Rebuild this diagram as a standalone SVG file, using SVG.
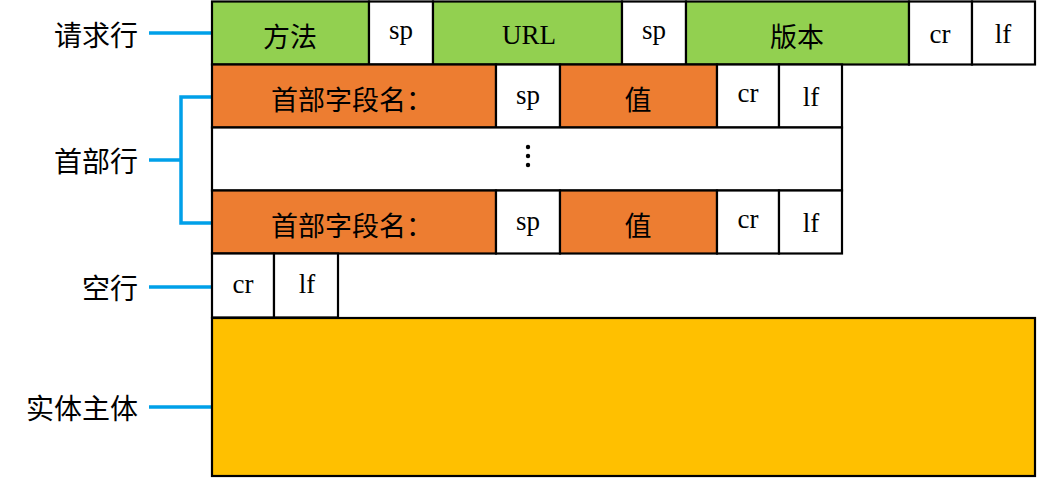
<svg xmlns="http://www.w3.org/2000/svg" width="1037" height="478" viewBox="0 0 1037 478">
<style>
.c{stroke:#000;stroke-width:2.2}
.g{fill:#92D050}
.o{fill:#ED7D31}
.w{fill:#fff}
.y{fill:#FFC000}
.zh{font-family:"Noto Sans CJK SC","Microsoft YaHei",sans-serif;font-size:27px;fill:#000;text-anchor:middle;dominant-baseline:central}
.en{font-family:"Liberation Serif","Times New Roman",serif;font-size:27px;fill:#000;text-anchor:middle}
.lb{font-family:"Noto Sans CJK SC","Microsoft YaHei",sans-serif;font-size:28px;fill:#000;text-anchor:end;dominant-baseline:central}
.con{stroke:#00A0E9;stroke-width:3.5;fill:none}
</style>
<rect width="1037" height="478" fill="#fff"/>
<g id="labels">
<text class="lb" x="138" y="34">请求行</text>
<text class="lb" x="138" y="160">首部行</text>
<text class="lb" x="138" y="287">空行</text>
<text class="lb" x="138" y="407">实体主体</text>
</g>
<g id="connectors">
<line class="con" x1="149" y1="33" x2="212" y2="33"/>
<path class="con" d="M149 160H181M212 97H181V223H212"/>
<line class="con" x1="149" y1="287" x2="212" y2="287"/>
<line class="con" x1="149" y1="407" x2="212" y2="407"/>
</g>
<g id="request-line">
<rect class="c g" x="212" y="1.5" width="157" height="63"/>
<rect class="c w" x="369" y="1.5" width="64" height="63"/>
<rect class="c g" x="433" y="1.5" width="189" height="63"/>
<rect class="c w" x="622" y="1.5" width="64" height="63"/>
<rect class="c g" x="686" y="1.5" width="223" height="63"/>
<rect class="c w" x="909" y="1.5" width="63" height="63"/>
<rect class="c w" x="972" y="1.5" width="63" height="63"/>
<text class="zh" x="290" y="35">方法</text>
<text class="en" x="401" y="39">sp</text>
<text class="en" x="529" y="44">URL</text>
<text class="en" x="654" y="39">sp</text>
<text class="zh" x="797" y="35">版本</text>
<text class="en" x="940" y="43">cr</text>
<text class="en" x="1003" y="43">lf</text>
</g>
<g id="header-1">
<rect class="c o" x="212" y="64.5" width="284" height="63"/>
<rect class="c w" x="496" y="64.5" width="64" height="63"/>
<rect class="c o" x="560" y="64.5" width="157" height="63"/>
<rect class="c w" x="717" y="64.5" width="62" height="63"/>
<rect class="c w" x="779" y="64.5" width="63" height="63"/>
<text class="zh" x="352" y="98">首部字段名：</text>
<text class="en" x="528" y="104">sp</text>
<text class="zh" x="638" y="98">值</text>
<text class="en" x="748" y="102">cr</text>
<text class="en" x="811" y="106">lf</text>
</g>
<g id="header-dots">
<rect class="c w" x="212" y="127.5" width="630" height="63"/>
<circle cx="528" cy="147" r="2.2" fill="#000"/>
<circle cx="528" cy="156" r="2.2" fill="#000"/>
<circle cx="528" cy="165" r="2.2" fill="#000"/>
</g>
<g id="header-2">
<rect class="c o" x="212" y="190.5" width="284" height="63"/>
<rect class="c w" x="496" y="190.5" width="64" height="63"/>
<rect class="c o" x="560" y="190.5" width="157" height="63"/>
<rect class="c w" x="717" y="190.5" width="62" height="63"/>
<rect class="c w" x="779" y="190.5" width="63" height="63"/>
<text class="zh" x="352" y="224">首部字段名：</text>
<text class="en" x="528" y="230">sp</text>
<text class="zh" x="638" y="224">值</text>
<text class="en" x="748" y="228">cr</text>
<text class="en" x="811" y="232">lf</text>
</g>
<g id="blank-line">
<rect class="c w" x="212" y="253.5" width="62" height="64"/>
<rect class="c w" x="274" y="253.5" width="64" height="64"/>
<text class="en" x="243" y="293">cr</text>
<text class="en" x="307" y="293">lf</text>
</g>
<g id="entity-body">
<rect class="c y" x="212" y="318" width="823" height="158"/>
</g>
</svg>
